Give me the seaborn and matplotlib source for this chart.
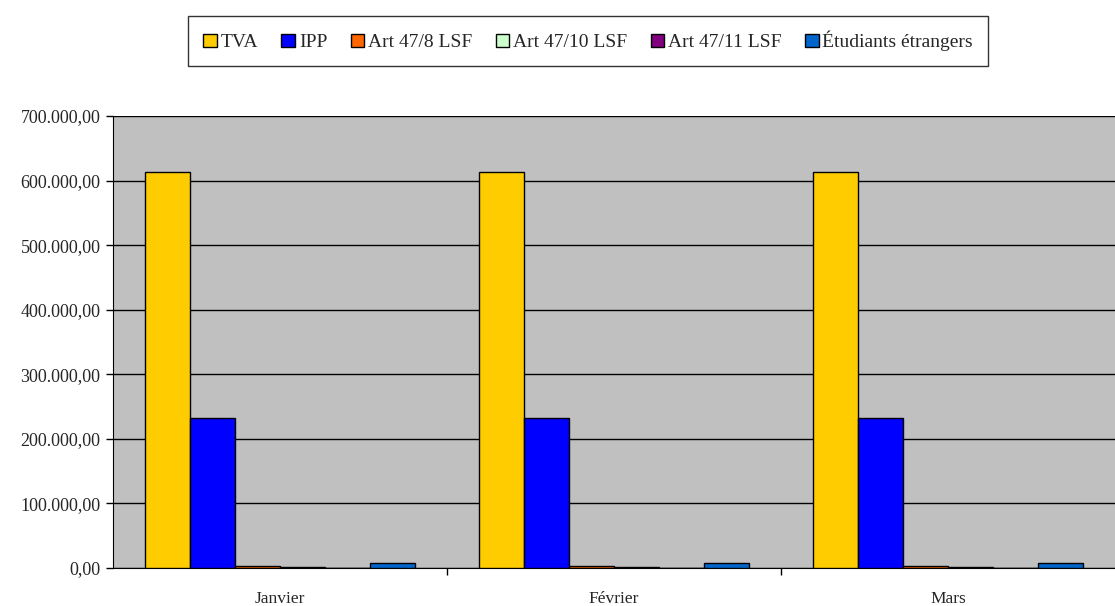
import matplotlib
matplotlib.use("Agg")
import matplotlib.pyplot as plt
import matplotlib.ticker as mticker
import pandas as pd
import seaborn as sns

months = ["Janvier", "Février", "Mars"]
series = ["TVA", "IPP", "Art 47/8 LSF", "Art 47/10 LSF", "Art 47/11 LSF", "Étudiants étrangers"]
tva = [613000, 613000, 613000]
ipp = [232000, 232000, 232000]
art_47_8 = [2500, 2500, 2500]
art_47_10 = [2200, 2200, 2200]
art_47_11 = [0, 0, 0]
etudiants = [7500, 7500, 7500]
colors = ["#FFCC00", "#0000FF", "#FF6600", "#CCFFCC", "#800080", "#0066CC"]

values = [tva, ipp, art_47_8, art_47_10, art_47_11, etudiants]
rows = []
for name, vals in zip(series, values):
    for month, v in zip(months, vals):
        rows.append({"mois": month, "serie": name, "montant": v})
df = pd.DataFrame(rows)

sns.set_style("white")
plt.rcParams["font.family"] = ["Liberation Serif", "DejaVu Serif"]

fig = plt.figure(figsize=(11.15, 6.06), dpi=100)
ax = fig.add_axes([113 / 1115, 1 - 568 / 606, 1 - 113 / 1115, (568 - 116) / 606])
ax.set_facecolor("#C0C0C0")

sns.barplot(data=df, x="mois", y="montant", hue="serie", hue_order=series,
            order=months, palette=colors, saturation=1, width=0.81, gap=0,
            edgecolor="black", linewidth=1.0, ax=ax, legend=True, zorder=3)

ax.set_ylim(0, 700000)
ax.set_xlim(-0.5, 2.5)
ax.yaxis.set_major_locator(mticker.MultipleLocator(100000))


def fmt(v, pos):
    s = f"{v:,.2f}"
    return s.replace(",", " ").replace(".", ",").replace(" ", ".")


ax.yaxis.set_major_formatter(mticker.FuncFormatter(fmt))
ax.grid(axis="y", color="black", linewidth=1.0, zorder=1)
ax.set_axisbelow(True)

for side in ["top", "right"]:
    ax.spines[side].set_visible(False)
ax.spines["left"].set_color("black")
ax.spines["bottom"].set_color("black")

ax.tick_params(axis="y", which="major", left=True, length=5, width=1, color="black",
               labelsize=13, pad=4)
ax.tick_params(axis="x", which="major", bottom=False, labelsize=12.5, pad=13)
ax.xaxis.set_minor_locator(mticker.FixedLocator([0.5, 1.5]))
ax.tick_params(axis="x", which="minor", bottom=True, length=5, width=1, color="black")
ax.set_xlabel("")
ax.set_ylabel("")

handles, labels = ax.get_legend_handles_labels()
ax.legend_.remove()
leg = fig.legend(handles, labels, loc="center", bbox_to_anchor=(588 / 1115, 1 - 41 / 606),
                 ncol=6, frameon=True, fancybox=False, edgecolor="black",
                 fontsize=14, handlelength=0.7, handleheight=0.7, handletextpad=0.2,
                 columnspacing=1.2, borderpad=0.75, borderaxespad=0)
leg.get_frame().set_linewidth(1.0)

fig.savefig("out.png", dpi=100)
